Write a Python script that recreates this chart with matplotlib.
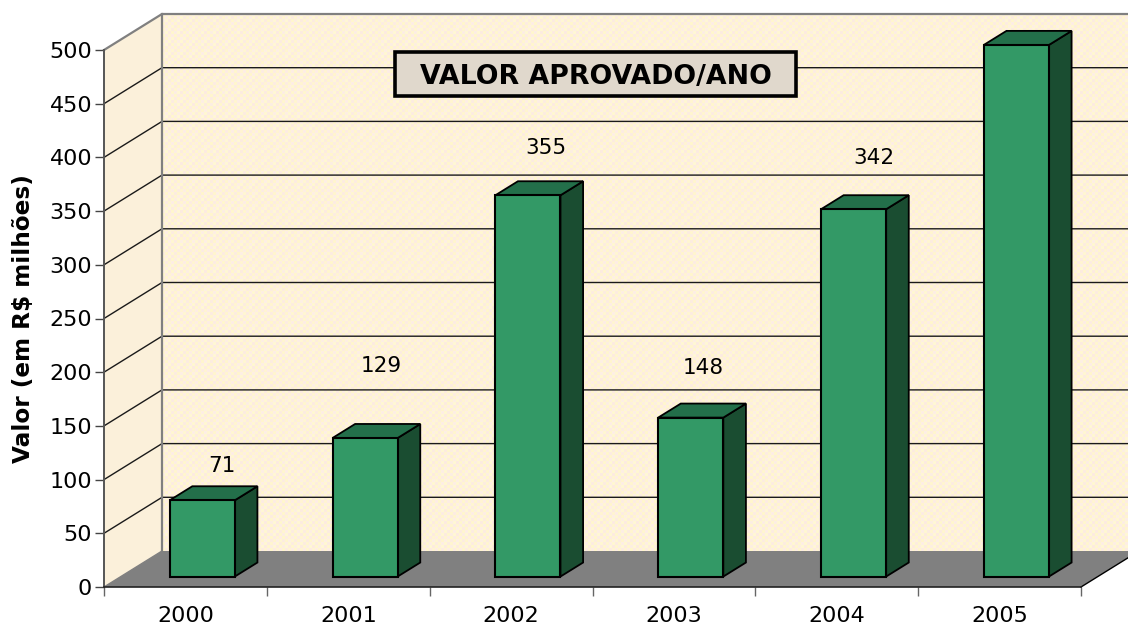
import matplotlib
matplotlib.use('Agg')
import matplotlib.pyplot as plt
from matplotlib.patches import Polygon, Rectangle
import numpy as np

years = ['2000', '2001', '2002', '2003', '2004', '2005']
values = [71, 129, 355, 148, 342, 495]
labels = ['71', '129', '355', '148', '342', '']
yticks = [0, 50, 100, 150, 200, 250, 300, 350, 400, 450, 500]

# where the value labels sit relative to the bar front, in pixels
label_right = [20, 16.5, 17.5, 13, 20, 0]
label_above = [34, 72, 47, 50, 51, 0]

# scale of the front plane in pixels per data unit
px_x = 977 / 6
px_y = 537 / 500

# size of the oblique depth, in data units (58 px across, 36 px up)
depth_x = 58 / px_x
depth_y = 36 / px_y
bar_width = 0.40
bar_front = 0.29
bar_back = 0.68

plt.rcParams['font.family'] = ['DejaVu Sans']

fig = plt.figure(figsize=(11.28, 6.28), dpi=100)
ax = fig.add_axes([104 / 1128, 41 / 628, 977 / 1128, 537 / 628])
ax.patch.set_visible(False)


def shift(x, y, d):
    return (x + d * depth_x, y + d * depth_y)


def poly(points, face, edge='none', lw=0.0, z=1):
    p = Polygon(points, closed=True, facecolor=face, edgecolor=edge,
                linewidth=lw, clip_on=False, zorder=z, joinstyle='miter')
    ax.add_patch(p)
    return p


# back wall with a dotted paper look from one small repeated tile
tile = np.array([[[255, 246, 205], [252, 236, 226], [255, 244, 210], [253, 237, 228]],
                 [[252, 238, 226], [255, 247, 212], [252, 235, 224], [255, 246, 206]],
                 [[255, 245, 208], [253, 238, 228], [255, 247, 210], [252, 236, 224]],
                 [[252, 236, 224], [255, 245, 206], [253, 239, 228], [255, 246, 210]]],
                dtype=np.uint8)
wall_x0, wall_y0 = shift(0, 0, 1)
wall_x1, wall_y1 = shift(7, 500, 1)
rows = int((wall_y1 - wall_y0) * px_y / 3) + 1
cols = int((wall_x1 - wall_x0) * px_x / 3) + 1
texture = np.tile(tile, (rows // 4 + 1, cols // 4 + 1, 1))[:rows, :cols]
im = ax.imshow(texture, extent=(wall_x0, wall_x1, wall_y0, wall_y1), aspect='auto',
               interpolation='nearest', origin='lower', zorder=1)
im.set_clip_on(False)
ax.set_xlim(0, 6)
ax.set_ylim(0, 500)

# left wall, floor
poly([(0, 0), shift(0, 0, 1), shift(0, 500, 1), (0, 500)], '#fbf0da')
poly([(0, 0), (6, 0), shift(6, 0, 1), shift(7, 0, 1), shift(0, 0, 1)], '#808080', z=1.5)

# gridlines along both walls
for v in yticks[1:-1]:
    ax.plot(*zip((0, v), shift(0, v, 1), shift(7, v, 1)), color='#1a1a1a', lw=1.0,
            clip_on=False, zorder=2)
ax.plot(*zip((0, 0), shift(0, 0, 1)), color='#808080', lw=1.0, clip_on=False, zorder=2)
ax.plot(*zip((0, 500), shift(0, 500, 1), shift(7, 500, 1)), color='#808080', lw=1.6,
        clip_on=False, zorder=2)
ax.plot(*zip(shift(0, 0, 1), shift(0, 500, 1)), color='#808080', lw=1.6, clip_on=False, zorder=2)
ax.plot(*zip((6, 0), shift(6, 0, 1)), color='black', lw=1.0, clip_on=False, zorder=2)

# bars
for i, v in enumerate(values):
    left = i + 0.5 - bar_width / 2
    right = i + 0.5 + bar_width / 2
    x0, y0 = shift(left, 0, bar_front)
    x1 = shift(right, 0, bar_front)[0]
    h = bar_back - bar_front
    dx = h * depth_x
    dy = h * depth_y
    poly([(x1, y0), (x1 + dx, y0 + dy), (x1 + dx, y0 + v + dy), (x1, y0 + v)],
         '#1a4d31', 'black', 1.3, 4)
    poly([(x0, y0 + v), (x1, y0 + v), (x1 + dx, y0 + v + dy), (x0 + dx, y0 + v + dy)],
         '#236f4a', 'black', 1.3, 4)
    poly([(x0, y0), (x1, y0), (x1, y0 + v), (x0, y0 + v)], '#339966', 'black', 1.5, 5)
    ax.text((x0 + x1) / 2 + label_right[i] / px_x, y0 + v + label_above[i] / px_y, labels[i],
            ha='center', va='center', fontsize=15.5, color='black', zorder=6)

# axes
for s in ['top', 'right']:
    ax.spines[s].set_visible(False)
ax.spines['left'].set_color('#555555')
ax.spines['left'].set_linewidth(1.4)
ax.spines['bottom'].set_color('#222222')
ax.spines['bottom'].set_linewidth(1.2)
ax.spines['left'].set_zorder(7)
ax.spines['bottom'].set_zorder(7)

ax.set_yticks(yticks)
ax.tick_params(axis='y', labelsize=16, length=6.5, width=1.0, color='#444444', pad=2)
ax.set_xticks(range(7))
ax.set_xticklabels([])
ax.set_xticks([i + 0.5 for i in range(6)], minor=True)
ax.set_xticklabels(years, minor=True, fontsize=16)
ax.tick_params(axis='x', which='major', length=6.5, width=1.0, color='#666666')
ax.tick_params(axis='x', which='minor', length=0, pad=14)

ax.set_ylabel('Valor (em R$ milhões)', fontsize=16.7, fontweight='bold')
ax.yaxis.set_label_coords((35 - 104) / 977, (587 - 319) / 537)

# title box
box_x0 = (395 - 104) / px_x
box_x1 = (796 - 104) / px_x
box_y0 = (587 - 96) / px_y
box_y1 = (587 - 52) / px_y
ax.add_patch(Rectangle((box_x0, box_y0), box_x1 - box_x0, box_y1 - box_y0, facecolor='#e0d8cc',
                       edgecolor='black', linewidth=2.6, clip_on=False, zorder=8))
ax.text((box_x0 + box_x1) / 2, (box_y0 + box_y1) / 2, 'VALOR APROVADO/ANO', ha='center',
        va='center_baseline', fontsize=19.3, fontweight='bold', color='black', zorder=9)

fig.savefig('out.png', dpi=100)
plt.close(fig)
